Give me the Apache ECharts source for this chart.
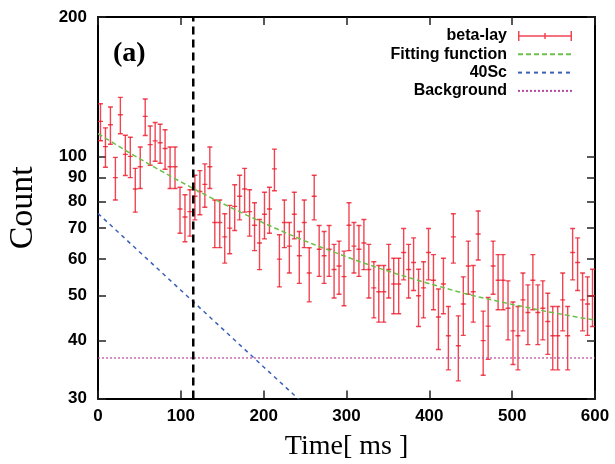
<!DOCTYPE html>
<html>
<head>
<meta charset="utf-8">
<script src="https://cdn.jsdelivr.net/npm/echarts@6/dist/echarts.min.js"></script>
<style>html,body{margin:0;padding:0;background:#fff}#c{width:615px;height:464px}</style>
</head>
<body>
<div id="c"></div>
<script>
// bin centres (ms)
const times = [
  3,9,15,21,27,33,39,45,51,57,
  63,69,75,81,87,93,99,105,111,117,
  123,129,135,141,147,153,159,165,171,177,
  183,189,195,201,207,213,219,225,231,237,
  243,249,255,261,267,273,279,285,291,297,
  303,309,315,321,327,333,339,345,351,357,
  363,369,375,381,387,393,399,405,411,417,
  423,429,435,441,447,453,459,465,471,477,
  483,489,495,501,507,513,519,525,531,537,
  543,549,555,561,567,573,579,585,591,597
];
// counts per bin (beta-lay)
const counts = [
  119,105,117,90,123,101,100,85,95,122,
  106,108,107,104,95,95,77,74,76,82,
  84,87,95,72,72,67,70,78,82,85,
  76,71,65,75,77,94,60,72,64,75,
  61,72,56,82,63,61,63,57,58,55,
  71,64,63,65,57,52,51,51,57,53,
  53,62,57,59,50,52,62,54,45,53,
  41,67,39,48,58,51,68,40,43,58,
  54,54,47,42,41,49,46,54,46,47,
  44,41,41,49,41,62,59,49,48,50
];
// fitting function
const fitTimes = [0,20,40,60,80,100,120,140,160,180,200,220,240,260,280,300,320,340,360,380,400,420,440,460,480,500,520,540,560,580,600];
const fitValues = [112.0,106.5,101.3,96.6,92.2,88.1,84.3,80.8,77.6,74.6,71.8,69.2,66.8,64.6,62.6,60.7,58.9,57.3,55.8,54.4,53.1,51.9,50.7,49.7,48.8,47.9,47.1,46.3,45.6,44.9,44.3];
// 40Sc component
const scTimes = [0,100,200,300];
const scValues = [75.3,51.4,35.1,24.0];
// background level
const bgTimes = [0,600];
const bgValues = [36.7,36.7];
// vertical marker
const markerTime = 115;
// axis ticks
const xTicks = [0,100,200,300,400,500,600];
const yTicks = [30,40,50,60,70,80,90,100,200];
const binHalfWidth = 3;

const errData = times.map((t, i) => [t, counts[i], Math.sqrt(counts[i])]);
const yLogTicks = yTicks.map(v => Math.log10(v));
const yMinL = Math.log10(yTicks[0]), yMaxL = Math.log10(yTicks[yTicks.length - 1]);

const chart = echarts.init(document.getElementById('c'), null, {renderer: 'canvas'});
const red = 'rgba(236,22,40,0.8)';
const sans = 'Liberation Sans';
const serif = 'Liberation Serif';
const noSym = {color: 'rgba(0,0,0,0)', borderColor: 'rgba(0,0,0,0)', borderWidth: 0, opacity: 0};

chart.setOption({
  animation: false,
  backgroundColor: '#fff',
  title: {
    text: '(a)', left: 113, top: 40, padding: 0,
    textStyle: {fontFamily: serif, fontWeight: 'bold', fontSize: 28, color: '#000'}
  },
  legend: {
    data: [
      {name: 'beta-lay', icon: 'path://M0,4.25h54v1.5h-54z M0,0h1.5v10h-1.5z M52.5,0h1.5v10h-1.5z M26.25,2h1.5v6h-1.5z', itemStyle: {color: red}},
      {name: 'Fitting function', itemStyle: noSym},
      {name: '40Sc', itemStyle: noSym},
      {name: 'Background', itemStyle: noSym}
    ],
    orient: 'vertical', align: 'right', right: 42, top: 28, padding: 0,
    itemWidth: 54, itemHeight: 10, itemGap: 2.3,
    textStyle: {fontFamily: sans, fontWeight: 'bold', fontSize: 16, color: '#000', lineHeight: 16, padding: [0, 6, 0, 0]},
    selectedMode: false
  },
  grid: {left: 98, right: 20, top: 17, bottom: 65.5, containLabel: false, outerBoundsMode: 'none'},
  xAxis: [{
    type: 'value', min: xTicks[0], max: xTicks[xTicks.length - 1], interval: 100,
    position: 'bottom',
    name: 'Time[ ms ]', nameLocation: 'middle', nameGap: 34,
    nameTextStyle: {fontFamily: serif, fontSize: 28, color: '#000'},
    axisLine: {lineStyle: {color: '#000', width: 2}},
    axisTick: {inside: true, length: 8, lineStyle: {color: '#222', width: 1.5}},
    axisLabel: {fontFamily: sans, fontWeight: 'bold', fontSize: 17, color: '#000', margin: 9},
    splitLine: {show: false}
  }, {
    type: 'value', min: xTicks[0], max: xTicks[xTicks.length - 1], interval: 100,
    position: 'top',
    axisLine: {lineStyle: {color: '#000', width: 2}},
    axisTick: {inside: true, length: 8, lineStyle: {color: '#222', width: 1.5}},
    axisLabel: {show: false},
    splitLine: {show: false}
  }],
  yAxis: [{
    type: 'log', logBase: 10, min: yTicks[0], max: yTicks[yTicks.length - 1],
    show: false, splitLine: {show: false}
  }, {
    type: 'value', min: yMinL, max: yMaxL, position: 'left',
    name: 'Count', nameLocation: 'middle', nameGap: 58,
    nameTextStyle: {fontFamily: serif, fontSize: 34, color: '#000'},
    axisLine: {show: true, lineStyle: {color: '#000', width: 2}},
    axisTick: {show: true, inside: true, length: 8, customValues: yLogTicks, lineStyle: {color: '#222', width: 1.5}},
    axisLabel: {customValues: yLogTicks, formatter: v => String(Math.round(Math.pow(10, v))),
      fontFamily: sans, fontWeight: 'bold', fontSize: 17, color: '#000', margin: 11},
    splitLine: {show: false}
  }, {
    type: 'value', min: yMinL, max: yMaxL, position: 'right',
    axisLine: {show: true, lineStyle: {color: '#000', width: 2}},
    axisTick: {show: true, inside: true, length: 8, customValues: yLogTicks, lineStyle: {color: '#222', width: 1.5}},
    axisLabel: {show: false},
    splitLine: {show: false}
  }],
  series: [{
    name: 'beta-lay', type: 'custom', xAxisIndex: 0, yAxisIndex: 0,
    data: errData, encode: {x: 0, y: 1}, clip: true,
    itemStyle: {color: red},
    renderItem: function (params, api) {
      const t = api.value(0), v = api.value(1), e = api.value(2);
      const c = api.coord([t, v]);
      const hi = api.coord([t, v + e]);
      const lo = api.coord([t, v - e]);
      const l = api.coord([t - binHalfWidth, v]);
      const r = api.coord([t + binHalfWidth, v]);
      const cap = (r[0] - l[0]) / 2;
      const style = {stroke: red, lineWidth: 1.4, fill: null};
      return {type: 'group', children: [
        {type: 'line', shape: {x1: c[0], y1: hi[1], x2: c[0], y2: lo[1]}, style: style},
        {type: 'line', shape: {x1: c[0] - cap, y1: hi[1], x2: c[0] + cap, y2: hi[1]}, style: style},
        {type: 'line', shape: {x1: c[0] - cap, y1: lo[1], x2: c[0] + cap, y2: lo[1]}, style: style},
        {type: 'line', shape: {x1: l[0], y1: c[1], x2: r[0], y2: c[1]}, style: style}
      ]};
    }
  }, {
    name: 'Fitting function', type: 'line', xAxisIndex: 0, yAxisIndex: 0,
    data: fitTimes.map((t, i) => [t, fitValues[i]]), symbol: 'none', smooth: false,
    lineStyle: {color: '#6cc04a', width: 1.5, type: [5, 3]}, itemStyle: {color: '#6cc04a'}, z: 3
  }, {
    name: '40Sc', type: 'line', xAxisIndex: 0, yAxisIndex: 0,
    data: scTimes.map((t, i) => [t, scValues[i]]), symbol: 'none',
    lineStyle: {color: '#3a5fb8', width: 1.5, type: [4, 4]}, itemStyle: {color: '#3a5fb8'}, z: 3
  }, {
    name: 'Background', type: 'line', xAxisIndex: 0, yAxisIndex: 0,
    data: bgTimes.map((t, i) => [t, bgValues[i]]), symbol: 'none',
    lineStyle: {color: '#b8489e', width: 1.2, type: [2, 2]}, itemStyle: {color: '#b8489e'}, z: 3
  }, {
    name: 'marker', type: 'line', xAxisIndex: 0, yAxisIndex: 0,
    data: [[markerTime, yTicks[0]], [markerTime, yTicks[yTicks.length - 1]]], symbol: 'none',
    lineStyle: {color: '#000', width: 2.5, type: [8, 5]}, z: 4
  }]
});
</script>
</body>
</html>
